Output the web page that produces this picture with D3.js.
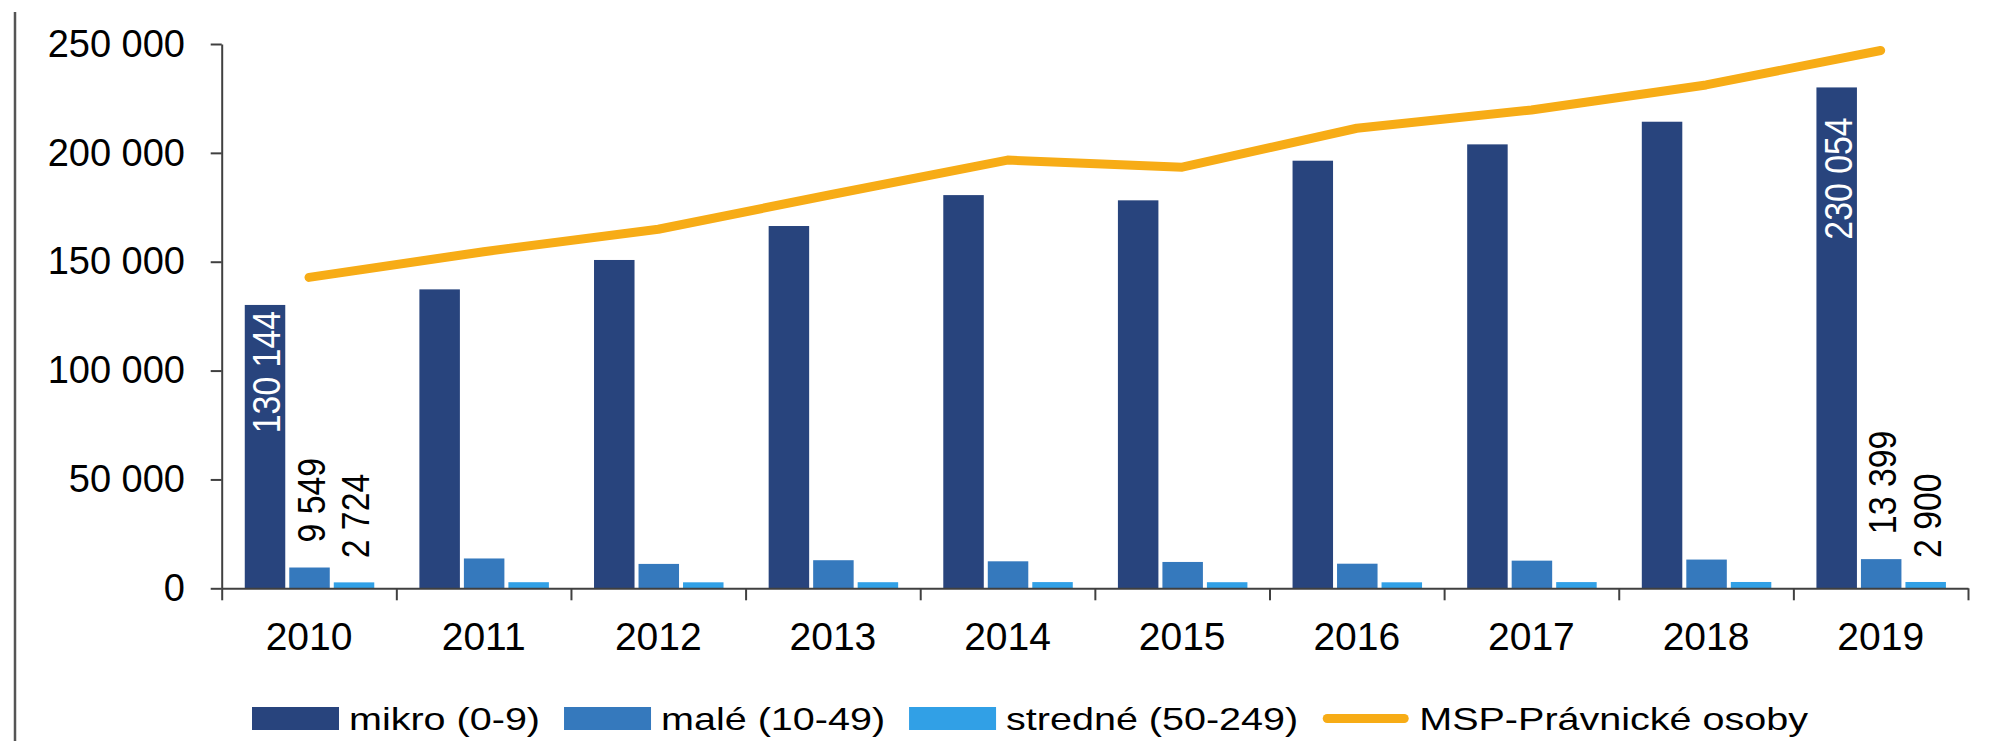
<!DOCTYPE html>
<html>
<head>
<meta charset="utf-8">
<script src="https://cdn.jsdelivr.net/npm/d3@7"></script>
<style>
  html, body { margin: 0; padding: 0; background: #ffffff; }
  svg { display: block; font-family: "Liberation Sans", Arial, sans-serif; }
</style>
</head>
<body>
<svg id="chart" width="2005" height="741"></svg>
<script>
// ---------------- data ----------------
const years   = ["2010","2011","2012","2013","2014","2015","2016","2017","2018","2019"];
const mikro   = [130144, 137300, 150800, 166400, 180600, 178200, 196400, 203900, 214300, 230054];
const male    = [9549, 13700, 11200, 12900, 12400, 12100, 11300, 12700, 13200, 13399];
const stredne = [2724, 2800, 2750, 2800, 2850, 2800, 2750, 2850, 2900, 2900];
const msp     = [142800, 154600, 164900, 181000, 196700, 193400, 211300, 219700, 231200, 247000];
const yTicks  = [0, 50000, 100000, 150000, 200000, 250000];
const seriesKeys   = ["mikro", "male", "stredne"];
const seriesLabels = ["mikro (0-9)", "malé (10-49)", "stredné (50-249)"];
const lineLabel    = "MSP-Právnické osoby";
const labelledYears = ["2010", "2019"];

// ---------------- style ----------------
const colors = { mikro: "#28447D", male: "#3579BD", stredne: "#31A0E6", line: "#F7AC16" };
const axisColor = "#404040";
const L = 221.7, R = 1968, T = 44, B = 588.3;

const svg = d3.select("#chart");
const values = { mikro, male, stredne };
const fmt = v => d3.format(",")(v).replace(/,/g, " ");

const x = d3.scaleBand().domain(years).range([L, R]).padding(0);
const xin = d3.scaleBand().domain(seriesKeys).range([-64.25, 65.25]).paddingInner(0.09);
const y = d3.scaleLinear().domain([0, 250000]).range([B, T]);

// left frame line
svg.append("line").attr("x1", 15).attr("x2", 15).attr("y1", 12).attr("y2", 741)
  .attr("stroke", "#555").attr("stroke-width", 2.5);

// bars
seriesKeys.forEach(k => {
  svg.append("g").selectAll("rect").data(years).join("rect")
    .attr("x", (d) => x(d) + x.bandwidth() / 2 + xin(k))
    .attr("width", xin.bandwidth())
    .attr("y", (d, i) => y(values[k][i]))
    .attr("height", (d, i) => B - y(values[k][i]))
    .attr("fill", colors[k]);
});

// line
const line = d3.line().x((d, i) => x(years[i]) + x.bandwidth() / 2).y(d => y(d));
svg.append("path").datum(msp).attr("d", line)
  .attr("fill", "none").attr("stroke", colors.line).attr("stroke-width", 9)
  .attr("stroke-linecap", "round").attr("stroke-linejoin", "round");

// y axis
const yAxis = d3.axisLeft(y).tickValues(yTicks).tickFormat(fmt).tickSize(11).tickSizeOuter(0).tickPadding(25.7);
const gy = svg.append("g").attr("transform", `translate(${L},0)`).call(yAxis);
gy.selectAll("path, line").attr("stroke", axisColor).attr("stroke-width", 2);
gy.selectAll("text").attr("font-size", 38).attr("fill", "#000")
  .attr("font-family", "'Liberation Sans', Arial, sans-serif");

// x axis labels
const xAxis = d3.axisBottom(x).tickSize(0).tickPadding(34.3);
const gx = svg.append("g").attr("transform", `translate(0,${B})`).call(xAxis);
gx.select("path").remove();
gx.selectAll("text").attr("font-size", 39).attr("fill", "#000")
  .attr("font-family", "'Liberation Sans', Arial, sans-serif");

// x axis line + boundary ticks
const xb = d3.scaleLinear().domain([0, years.length]).range([L, R]);
const gxb = svg.append("g").attr("transform", `translate(0,${B})`)
  .call(d3.axisBottom(xb).ticks(years.length).tickFormat("").tickSize(12).tickSizeOuter(0));
gxb.selectAll("path, line").attr("stroke", axisColor).attr("stroke-width", 2);

// data labels (rotated)
const insetTop = { "mikro-2010": 6, "mikro-2019": 30 };
const gapAbove = { male: 25, stredne: 24 };
const gl = svg.append("g");
labelledYears.forEach(yr => {
  const i = years.indexOf(yr);
  seriesKeys.forEach(k => {
    const v = values[k][i];
    const cx = x(yr) + x.bandwidth() / 2 + xin(k) + xin.bandwidth() / 2;
    const inside = k === "mikro";
    const t = gl.append("text")
      .attr("font-size", 38)
      .attr("fill", inside ? "#ffffff" : "#000000")
      .text(fmt(v));
    if (inside) {
      t.attr("text-anchor", "end")
       .attr("transform", `translate(${cx + 15},${y(v) + insetTop[k + "-" + yr]}) rotate(-90) scale(0.89,1)`);
    } else {
      t.attr("text-anchor", "start")
       .attr("transform", `translate(${cx + 15},${y(v) - gapAbove[k]}) rotate(-90) scale(0.89,1)`);
    }
  });
});

// legend
const legend = svg.append("g");
let lx = 252;
const swW = 87, swGap = 10, itemGap = 24, legBase = 730;
const items = seriesKeys.map((k, i) => ({ label: seriesLabels[i], color: colors[k], type: "rect" }))
  .concat([{ label: lineLabel, color: colors.line, type: "line" }]);
items.forEach(it => {
  if (it.type === "rect") {
    legend.append("rect").attr("x", lx).attr("y", 707).attr("width", swW).attr("height", 23).attr("fill", it.color);
  } else {
    legend.append("line").attr("x1", lx + 5).attr("x2", lx + swW - 5).attr("y1", 718.5).attr("y2", 718.5)
      .attr("stroke", it.color).attr("stroke-width", 9).attr("stroke-linecap", "round");
  }
  const tx = lx + swW + swGap;
  const t = legend.append("text").attr("x", tx).attr("y", legBase)
    .attr("font-size", 32).attr("fill", "#000").text(it.label);
  const w = t.node().getComputedTextLength() * 1.235;
  t.attr("textLength", w).attr("lengthAdjust", "spacingAndGlyphs");
  lx = tx + w + itemGap;
});
</script>
</body>
</html>
